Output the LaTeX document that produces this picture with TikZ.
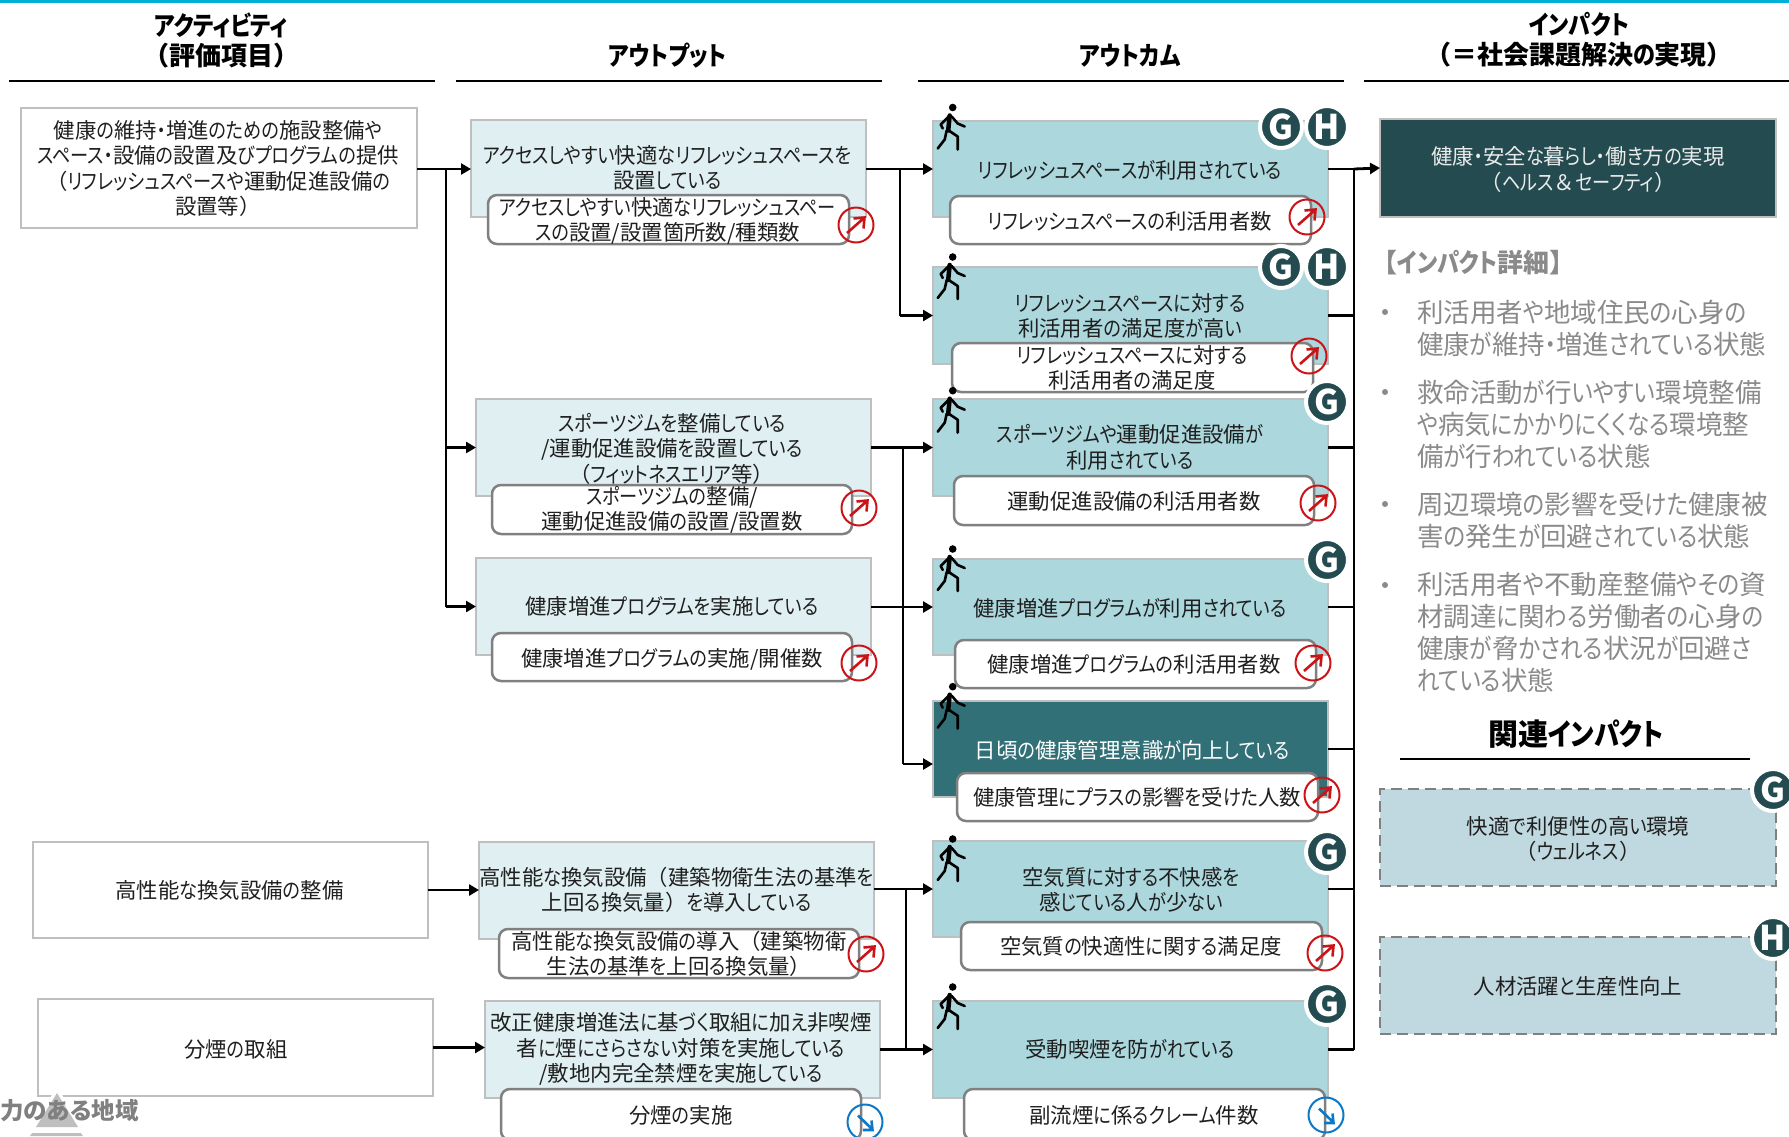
\documentclass[tikz,border=0pt]{standalone}
\usepackage{fontspec}
\setmainfont{Noto Sans CJK JP}[RawFeature={+palt}]
\newfontfamily\kanafam{Noto Sans CJK JP}[RawFeature={+palt},FakeStretch=0.85]
\newfontfamily\widefam{Noto Sans CJK JP}
\newXeTeXintercharclass\kanaclass
\newXeTeXintercharclass\wideclass
\newcount\kcnt
\kcnt="3041 \loop\ifnum\kcnt<"3097 \XeTeXcharclass\kcnt=\kanaclass \advance\kcnt by 1 \repeat
\kcnt="30A1 \loop\ifnum\kcnt<"30FD \XeTeXcharclass\kcnt=\kanaclass \advance\kcnt by 1 \repeat
\XeTeXcharclass"FF08=\wideclass
\XeTeXcharclass"FF09=\wideclass
\XeTeXcharclass"FF1D=\wideclass
\XeTeXcharclass"FF06=\wideclass
\XeTeXcharclass"3010=\wideclass
\XeTeXcharclass"3011=\wideclass
\def\jtend{\jtend}
\def\jt#1{\jtloop#1\jtend}
\def\jtloop#1{\ifx#1\jtend\let\jtn\relax\else\ifx#1\\\def\jtn{\\\jtloop}\else\ifnum\XeTeXcharclass`#1=\kanaclass\def\jtn{{\kanafam #1}\jtloop}\else\ifnum\XeTeXcharclass`#1=\wideclass\def\jtn{{\widefam #1}\jtloop}\else\def\jtn{#1\jtloop}\fi\fi\fi\fi\jtn}
\usetikzlibrary{arrows.meta}
\definecolor{barc}{HTML}{00B0D8}
\definecolor{edgec}{HTML}{BFBFBF}
\definecolor{subc}{HTML}{808080}
\definecolor{outc}{HTML}{E0EFF1}
\definecolor{comec}{HTML}{ABD7DD}
\definecolor{darkc}{HTML}{327078}
\definecolor{impc}{HTML}{244C50}
\definecolor{relc}{HTML}{C0D8DF}
\definecolor{grayt}{HTML}{8A8A8A}
\definecolor{redc}{HTML}{CC1418}
\definecolor{bluec}{HTML}{0C78C8}
\newcommand{\bx}[6]{\node[#6, minimum width={(#4-#2)*1pt}, minimum height={(#5-#3)*1pt}] (#1) at ({(#2+#4)/2},{(#3+#5)/2}) {};}
\newcommand{\tx}[5][]{\node[lbl,#1] (#2) at (#3,#4) {\jt{#5}};}
\tikzset{
  base/.style={inner sep=0pt, outer sep=0pt},
  actbox/.style={base, draw=edgec, line width=2.5pt, fill=white},
  outbox/.style={base, draw=edgec, line width=2.5pt, fill=outc},
  comebox/.style={base, draw=edgec, line width=2.5pt, fill=comec},
  darkbox/.style={base, draw=edgec, line width=2.5pt, fill=darkc},
  impbox/.style={base, draw=edgec, line width=2.5pt, fill=impc},
  relbox/.style={base, draw=subc, line width=2.5pt, fill=relc, dash pattern=on 11pt off 6pt},
  subbox/.style={base, draw=subc, line width=2.5pt, fill=white, rounded corners=9pt},
  lbl/.style={base, align=center, font=\fontsize{21.4}{25.5}\selectfont, text=black!88},
  head/.style={lbl, font=\fontsize{26}{30}\selectfont\bfseries, text=black},
  bul/.style={lbl, align=left, anchor=west, font=\fontsize{26.5}{32}\selectfont, text=grayt},
  badge/.style={base, circle, minimum size=42pt, fill=impc, draw=white, line width=4pt, text=white, font=\fontsize{34}{34}\selectfont\bfseries},
  ln/.style={line width=2.8pt, black},
  arr/.style={ln, -{Triangle[length=10pt,width=11pt]}},
  rule/.style={line width=2.5pt, black},
  walkerpic/.pic={
    \fill[black] (0,0) circle (3.8);
    \draw[black, line width=4.5pt, line join=round, line cap=round] (-3,8) -- (-4.5,23);
    \draw[black, line width=2.6pt, line join=round, line cap=round]
      (-1,9) -- (5,16) -- (12,19)
      (-4,9) -- (-12,17) -- (-10,21)
      (-4,23) -- (5,29) -- (5,42)
      (-6,23) -- (-8,32) -- (-15,41);
  },
  uppic/.pic={
    \draw[redc, line width=2pt] (0,0) circle (17.5);
    \draw[redc, line width=2.6pt, line join=miter] (-9,8) -- (8,-7) (-2.5,-6.5) -- (8.5,-7.5) -- (7.5,3.5);
  },
  downpic/.pic={
    \draw[bluec, line width=2pt] (0,0) circle (17.5);
    \draw[bluec, line width=2.6pt, line join=miter] (-7,-6.5) -- (7,7) (6.5,-1.5) -- (7.5,8) -- (-2,8);
  },
}
\begin{document}
\begin{tikzpicture}[x=1pt,y=-1pt]
\useasboundingbox (0,0) rectangle (1789,1136);
\clip (0,0) rectangle (1789,1136);
\fill[barc] (0,0) rectangle (1789,3);
% headers
\node[head] (h1) at (221,40) {\jt{アクティビティ\\（評価項目）}};
\node[head] (h2) at (667.5,55.5) {\jt{アウトプット}};
\node[head] (h3) at (1130,55.5) {\jt{アウトカム}};
\node[head] (h4) at (1579,40) {\jt{インパクト\\（＝社会課題解決の実現）}};
\draw[rule] (9,81) -- (435,81);
\draw[rule] (456,81) -- (882,81);
\draw[rule] (918,81) -- (1344,81);
\draw[rule] (1364,81) -- (1789,81);
% activities
\bx{a1}{21}{108}{417}{228}{actbox}
\tx{ta1}{218}{168.5}{健康の維持・増進のための施設整備や\\スペース・設備の設置及びプログラムの提供\\（リフレッシュスペースや運動促進設備の\\設置等）}
\bx{a2}{33}{842}{428}{938}{actbox}
\tx{ta2}{229.5}{890}{高性能な換気設備の整備}
\bx{a3}{38}{999}{433}{1096}{actbox}
\tx{ta3}{236}{1049}{分煙の取組}
% watermark
\fill[white] (57,1087) -- (86,1133) -- (28,1133) -- cycle;
\fill[edgec] (57,1093) -- (78,1127) -- (36,1127) -- cycle;
\fill[edgec] (30,1136) -- (32,1133) -- (81,1133) -- (83,1136) -- cycle;
\node[base, anchor=west, font=\fontsize{23.5}{23.5}\selectfont\bfseries, text=subc] (wm) at (0,1111) {力のある地域};
% outputs
\bx{o1}{471}{120}{866}{217}{outbox}
\tx{to1}{667.5}{168}{アクセスしやすい快適なリフレッシュスペースを\\設置している}
\bx{os1}{488}{195}{849}{244}{subbox}
\tx{tos1}{667.5}{221}{アクセスしやすい快適なリフレッシュスペー\\スの設置/設置箇所数/種類数}
\pic at (856,225) {uppic};
\bx{o2}{476}{399}{871}{496}{outbox}
\tx{to2}{672}{448.5}{スポーツジムを整備している\\/運動促進設備を設置している\\（フィットネスエリア等）}
\bx{os2}{492}{485}{852}{534}{subbox}
\tx{tos2}{672}{510}{スポーツジムの整備/\\運動促進設備の設置/設置数}
\pic at (859,508) {uppic};
\bx{o3}{476}{558}{871}{655}{outbox}
\tx{to3}{672}{606}{健康増進プログラムを実施している}
\bx{os3}{492}{633}{852}{681}{subbox}
\tx{tos3}{672}{659}{健康増進プログラムの実施/開催数}
\pic at (859,663) {uppic};
\bx{o4}{479}{842}{874}{939}{outbox}
\tx{to4}{676.6}{890}{高性能な換気設備（建築物衛生法の基準を\\上回る換気量）を導入している}
\bx{os4}{499}{929}{859}{978}{subbox}
\tx{tos4}{679}{954}{高性能な換気設備の導入（建築物衛\\生法の基準を上回る換気量）}
\pic at (866,954) {uppic};
\bx{o5}{485}{1001}{880}{1098}{outbox}
\tx{to5}{681}{1049}{改正健康増進法に基づく取組に加え非喫煙\\者に煙にさらさない対策を実施している\\/敷地内完全禁煙を実施している}
\bx{os5}{501}{1089}{861}{1140}{subbox}
\tx{tos5}{681}{1115}{分煙の実施}
\pic at (865,1122) {downpic};
% outcomes
\bx{c1}{933}{121}{1328}{217}{comebox}
\tx{tc1}{1130}{170}{リフレッシュスペースが利用されている}
\bx{cs1}{950}{196}{1311}{244}{subbox}
\tx{tcs1}{1130}{221}{リフレッシュスペースの利活用者数}
\pic at (1307,217) {uppic};
\pic at (952.7,107.5) {walkerpic};
\node[badge] (g1) at (1281,127) {G};
\node[badge] (h1b) at (1327,127) {H};
\bx{c2}{933}{267}{1328}{364}{comebox}
\tx{tc2}{1130}{316}{リフレッシュスペースに対する\\利活用者の満足度が高い}
\bx{cs2}{952}{343}{1313}{392}{subbox}
\tx{tcs2}{1132}{368}{リフレッシュスペースに対する\\利活用者の満足度}
\pic at (1309,356) {uppic};
\pic at (952.7,257) {walkerpic};
\node[badge] (g2) at (1281,267) {G};
\node[badge] (h2b) at (1327,267) {H};
\bx{c3}{933}{399}{1328}{496}{comebox}
\tx{tc3}{1130}{447.5}{スポーツジムや運動促進設備が\\利用されている}
\bx{cs3}{954}{476}{1314}{525}{subbox}
\tx{tcs3}{1134}{501}{運動促進設備の利活用者数}
\pic at (1318,503) {uppic};
\pic at (952.7,390.7) {walkerpic};
\node[badge] (g3) at (1327,402) {G};
\bx{c4}{933}{559}{1328}{655}{comebox}
\tx{tc4}{1130}{608}{健康増進プログラムが利用されている}
\bx{cs4}{955}{640}{1316}{688}{subbox}
\tx{tcs4}{1134}{664}{健康増進プログラムの利活用者数}
\pic at (1313,663) {uppic};
\pic at (952.7,549) {walkerpic};
\node[badge] (g4) at (1327,560) {G};
\bx{c5}{933}{701}{1328}{797}{darkbox}
\tx[text=white]{tc5}{1132}{750}{日頃の健康管理意識が向上している}
\bx{cs5}{957}{773}{1318}{821}{subbox}
\tx{tcs5}{1137}{797}{健康管理にプラスの影響を受けた人数}
\pic at (1322,795) {uppic};
\pic at (952.7,686.7) {walkerpic};
\bx{c6}{933}{841}{1328}{937}{comebox}
\tx{tc6}{1131}{890}{空気質に対する不快感を\\感じている人が少ない}
\bx{cs6}{961}{922}{1322}{970}{subbox}
\tx{tcs6}{1141}{946}{空気質の快適性に関する満足度}
\pic at (1325,953) {uppic};
\pic at (952.7,839) {walkerpic};
\node[badge] (g6) at (1327,852) {G};
\bx{c7}{933}{1001}{1328}{1098}{comebox}
\tx{tc7}{1130}{1049}{受動喫煙を防がれている}
\bx{cs7}{964}{1089}{1325}{1140}{subbox}
\tx{tcs7}{1144}{1115}{副流煙に係るクレーム件数}
\pic at (1326,1115) {downpic};
\pic at (952.7,987) {walkerpic};
\node[badge] (g7) at (1327,1004) {G};
% impact
\bx{imp}{1380}{119}{1776}{217}{impbox}
\tx[text=white!92!black]{timp}{1578}{169.5}{健康・安全な暮らし・働き方の実現\\（ヘルス＆セーフティ）}
\node[lbl, font=\fontsize{26}{26}\selectfont\bfseries, text=grayt] (idt) at (1473.5,263) {\jt{【インパクト詳細】}};
\node[bul] (b1) at (1417,328) {\jt{利活用者や地域住民の心身の\\健康が維持・増進されている状態}};
\node[bul] (b2) at (1417,424) {\jt{救命活動が行いやすい環境整備\\や病気にかかりにくくなる環境整\\備が行われている状態}};
\node[bul] (b3) at (1417,520) {\jt{周辺環境の影響を受けた健康被\\害の発生が回避されている状態}};
\node[bul] (b4) at (1417,632.5) {\jt{利活用者や不動産整備やその資\\材調達に関わる労働者の心身の\\健康が脅かされる状況が回避さ\\れている状態}};
\foreach \yy in {312,392,504,585} \fill[grayt] (1385,\yy) circle (3);
\node[head, font=\fontsize{30}{30}\selectfont\bfseries] (rh) at (1576,734) {\jt{関連インパクト}};
\draw[rule] (1400,759) -- (1750,759);
\bx{r1}{1380}{789}{1776}{886}{relbox}
\tx{tr1}{1578}{839}{快適で利便性の高い環境\\（ウェルネス）}
\node[badge] (g8) at (1773,790) {G};
\bx{r2}{1380}{937}{1776}{1034}{relbox}
\tx{tr2}{1578}{986}{人材活躍と生産性向上}
\node[badge] (h8) at (1773,938) {H};
% connectors
\coordinate (ja) at (446,169);
\draw[ln] (a1.east |- ja) -- (ja);
\draw[arr] (ja) -- (o1.west |- ja);
\draw[ln] (ja) -- (ja |- o3.west);
\draw[arr] (ja |- o2.west) -- (o2.west);
\draw[arr] (ja |- o3.west) -- (o3.west);
\draw[arr] (a2.east) -- (o4.west |- a2.east);
\draw[arr] (a3.east) -- (o5.west |- a3.east);
\coordinate (jb) at (900,169);
\draw[arr] (o1.east |- jb) -- (c1.west);
\draw[ln] (jb) -- (jb |- c2.west);
\draw[arr] (jb |- c2.west) -- (c2.west);
\coordinate (jc) at (903,447.5);
\coordinate (jd) at (903,764);
\draw[arr] (o2.east) -- (c3.west);
\draw[ln] (jc) -- (jd);
\draw[arr] (jd) -- (c5.west |- jd);
\draw[arr] (o3.east |- c4.west) -- (c4.west);
\coordinate (je) at (906,889);
\draw[arr] (o4.east |- c6.west) -- (c6.west);
\draw[ln] (je) -- (je |- c7.west);
\draw[arr] (o5.east) -- (c7.west);
\coordinate (rt) at (1354,169);
\foreach \nm in {c1,c2,c3,c4,c5,c6,c7} \draw[ln] (\nm.east) -- (rt |- \nm.east);
\draw[ln] (rt) -- (rt |- c7.east);
\draw[arr] (rt) -- (imp.west);
\end{tikzpicture}
\end{document}
